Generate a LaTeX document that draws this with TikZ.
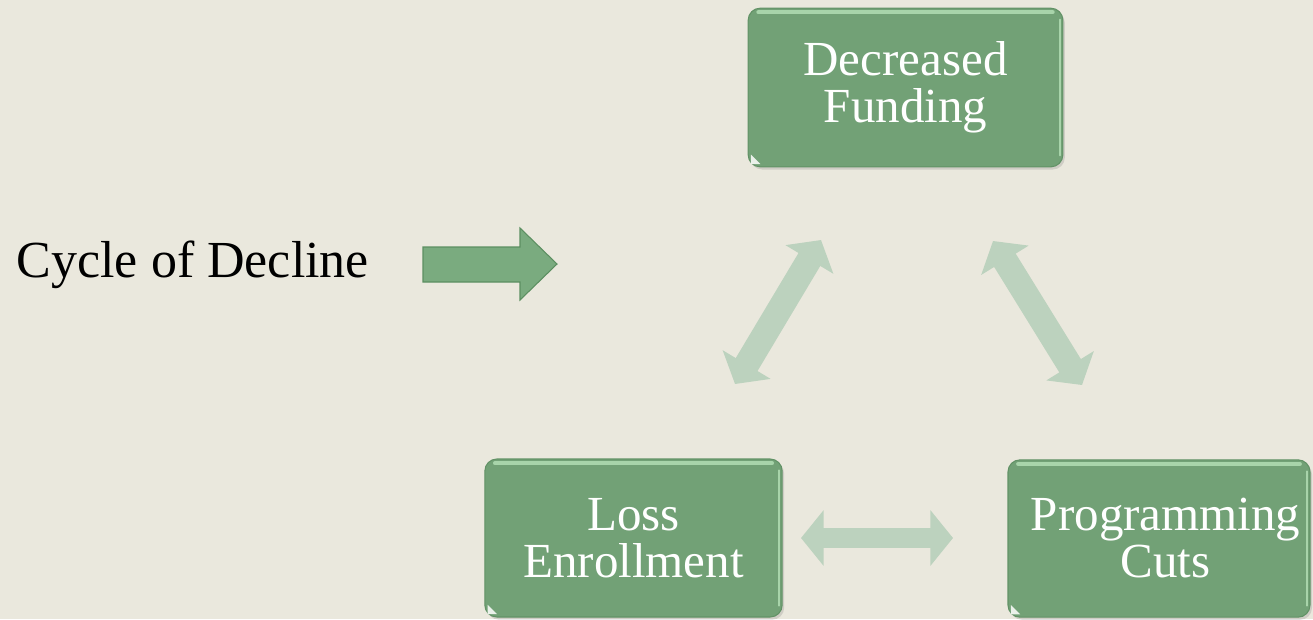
\documentclass[tikz,border=0pt]{standalone}
\usepackage{fontspec}
\setmainfont{Liberation Serif}
\usetikzlibrary{arrows.meta,shadows}

\definecolor{bgcol}{RGB}{234,232,221}
\definecolor{boxfill}{RGB}{114,161,118}
\definecolor{boxline}{RGB}{98,146,102}
\definecolor{boxhi}{RGB}{168,212,170}
\definecolor{arrowfill}{RGB}{188,210,190}
\definecolor{blockfill}{RGB}{122,171,127}
\definecolor{blockline}{RGB}{92,143,97}

\tikzset{
  box/.style={draw=boxline, line width=0.8pt, fill=boxfill, rounded corners=9pt,
    text=white, align=center, inner sep=0pt,
    font=\fontsize{36.75}{35.25}\selectfont,
    drop shadow={opacity=0.25, shadow xshift=1.5pt, shadow yshift=-2pt}},
  twoway/.style={draw=arrowfill, line width=19pt,
    {Triangle[length=17pt,width=41pt]}-{Triangle[length=17pt,width=41pt]}},
  hilite/.style={draw=boxhi, line width=3pt, line cap=round},
  blockarrow/.style={fill=blockfill, draw=blockline, line width=0.8pt},
}

\begin{document}
\begin{tikzpicture}[x=0.75pt,y=-0.75pt]
        \path[use as bounding box, fill=bgcol] (0,0) rectangle (1313,619);

        \node[anchor=base west, font=\fontsize{39}{47}\selectfont] (title) at (12,277) {Cycle of Decline};

        \draw[blockarrow] (423,247) -- (520,247) -- (520,228) -- (557,264)
            -- (520,300) -- (520,282) -- (423,282) -- cycle;

        \node[box, minimum width=236pt, minimum height=119pt] (fund) at (905.5,87.5) {Decreased\\Funding};
        \node[box, minimum width=223pt, minimum height=118.5pt] (loss) at (633.5,538) {Loss\\Enrollment};
        \node[box, minimum width=226.5pt, minimum height=118pt] (prog) at (1159,538.5) {\hspace*{10pt}Programming\\\hspace*{10pt}Cuts};

        % bevel look
        \foreach \n in {fund,loss,prog} {
            \draw[hilite] ([xshift=8pt,yshift=-3.5pt]\n.north west) -- ([xshift=-8pt,yshift=-3.5pt]\n.north east);
            \draw[hilite, line width=1.5pt] ([xshift=-2.5pt,yshift=-9pt]\n.north east) -- ([xshift=-2.5pt,yshift=9pt]\n.south east);
            \fill[white!85!boxfill] ([shift={(2.5pt,2.5pt)}]\n.south west) -- ++(7pt,0) -- ++(-7pt,7pt) -- cycle;
        }

        % arrow ends
        \coordinate (lf) at (821,240);
        \coordinate (ll) at (735,384);
        \coordinate (rf) at (993,241);
        \coordinate (rp) at (1082,385);
        \coordinate (hl) at (801,538);
        \coordinate (hp) at (953,538);

        \draw[twoway] (ll) -- (lf);
        \draw[twoway] (rf) -- (rp);
        \draw[twoway, line width=15pt] (hl) -- (hp);
    \end{tikzpicture}
\end{document}
